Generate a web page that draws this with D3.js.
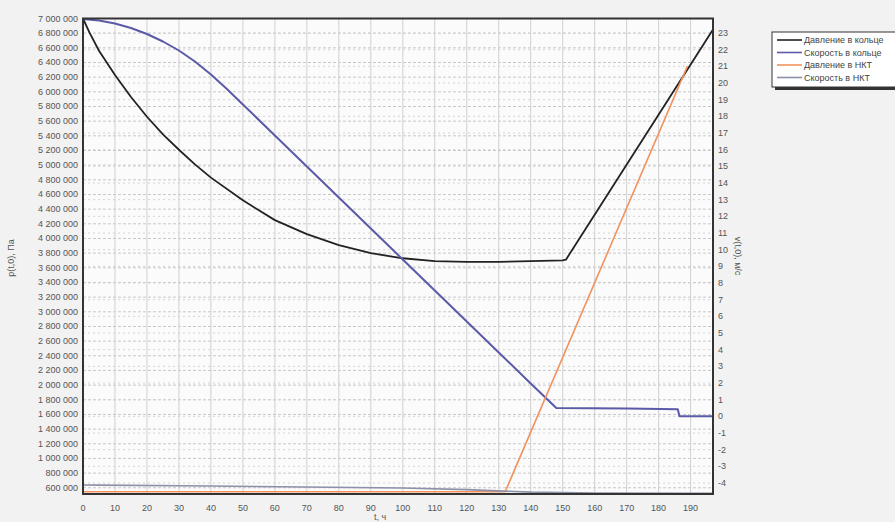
<!DOCTYPE html>
<html lang="ru">
<head>
<meta charset="UTF-8">
<title>Давление и скорость</title>
<script src="https://d3js.org/d3.v7.min.js"></script>
<style>
    body { margin: 0; background: #f2f2f2; font-family: "Liberation Sans", Arial, sans-serif; }
    svg { display: block; }
    .tick-label { font-size: 9px; fill: #555; }
    .legend text { font-size: 9px; fill: #444; }
</style>
</head>
<body>
<svg width="895" height="522"></svg>
<script>
// Давление в кольце, Па
const tRingP = [0, 2, 5, 10, 15, 20, 25, 30, 35, 40, 50, 60, 70, 80, 90, 100, 110, 120, 130, 140, 150, 151, 197];
const ringP  = [7000000, 6810000, 6560000, 6230000, 5930000, 5660000, 5420000, 5210000, 5010000, 4830000, 4520000, 4250000, 4060000, 3910000, 3800000, 3730000, 3690000, 3680000, 3680000, 3690000, 3700000, 3710000, 6850000];

// Скорость в кольце, м/с
const tRingV = [0, 5, 10, 15, 20, 25, 30, 35, 40, 45, 50, 60, 70, 80, 90, 100, 110, 120, 130, 140, 148, 170, 186, 186.5, 197];
const ringV  = [23.84, 23.75, 23.57, 23.3, 22.94, 22.49, 21.95, 21.29, 20.51, 19.64, 18.71, 16.85, 14.99, 13.13, 11.27, 9.41, 7.55, 5.69, 3.83, 1.97, 0.5, 0.47, 0.42, 0.0, 0.0];

// Давление в НКТ, Па
const tTubeP = [0, 132, 189];
const tubeP  = [545000, 545000, 6350000];

// Скорость в НКТ, м/с
const tTubeV = [0, 5, 40, 100, 120, 140, 160, 197];
const tubeV  = [-4.12, -4.13, -4.18, -4.3, -4.4, -4.55, -4.6, -4.62];

const xTicks = d3.range(0, 200, 10);
const leftTicks = d3.range(600000, 7000001, 200000);
const rightTicks = d3.range(-4, 24, 1);

const legendNames = ["Давление в кольце", "Скорость в кольце", "Давление в НКТ", "Скорость в НКТ"];
const colors = ["#222222", "#5a5aa8", "#f2935e", "#8c90a8"];

const svg = d3.select("svg");
const pLeft = 83, pRight = 713, pTop = 18.5, pBottom = 494;

const x = d3.scaleLinear().domain([0, 197]).range([pLeft, pRight]);
const yL = d3.scaleLinear().domain([515000, 7000000]).range([pBottom, pTop]);
const yR = d3.scaleLinear().domain([-4.66, 23.87]).range([pBottom, pTop]);

// фон области графика
svg.append("rect")
    .attr("x", pLeft).attr("y", pTop)
    .attr("width", pRight - pLeft).attr("height", pBottom - pTop)
    .attr("fill", "#fbfbfb");

// сетка
const grid = svg.append("g");
grid.selectAll(".gl").data(leftTicks).enter().append("line")
    .attr("x1", pLeft).attr("x2", pRight)
    .attr("y1", d => yL(d)).attr("y2", d => yL(d))
    .attr("stroke", "#c8c8c8").attr("stroke-dasharray", "3,2");
grid.selectAll(".gr").data(rightTicks).enter().append("line")
    .attr("x1", pLeft).attr("x2", pRight)
    .attr("y1", d => yR(d)).attr("y2", d => yR(d))
    .attr("stroke", "#d4d4d4").attr("stroke-dasharray", "2,3");
grid.selectAll(".gx").data(xTicks.slice(1)).enter().append("line")
    .attr("x1", d => x(d)).attr("x2", d => x(d))
    .attr("y1", pTop).attr("y2", pBottom)
    .attr("stroke", "#d0d0d0");

// линии
const series = [
    { t: tRingP, v: ringP, y: yL, w: 1.8 },
    { t: tRingV, v: ringV, y: yR, w: 2 },
    { t: tTubeP, v: tubeP, y: yL, w: 1.6 },
    { t: tTubeV, v: tubeV, y: yR, w: 1.6 }
];
series.forEach((s, i) => {
    const pts = s.t.map((t, j) => [t, s.v[j]]);
    const line = d3.line().x(d => x(d[0])).y(d => s.y(d[1]));
    svg.append("path")
        .datum(pts)
        .attr("d", line)
        .attr("fill", "none")
        .attr("stroke", colors[i])
        .attr("stroke-width", s.w)
        .attr("stroke-linejoin", "round");
});

// рамка
svg.append("rect")
    .attr("x", pLeft).attr("y", pTop)
    .attr("width", pRight - pLeft).attr("height", pBottom - pTop)
    .attr("fill", "none").attr("stroke", "#333").attr("stroke-width", 2);

// подписи осей
svg.append("g").selectAll("text").data(leftTicks).enter().append("text")
    .attr("class", "tick-label")
    .attr("x", 78).attr("y", d => yL(d) + 3)
    .attr("text-anchor", "end")
    .text(d => d3.format(",")(d).replace(/,/g, " "));

svg.append("g").selectAll("text").data(rightTicks).enter().append("text")
    .attr("class", "tick-label")
    .attr("x", 718).attr("y", d => yR(d) + 3)
    .text(d => d);

svg.append("g").selectAll("text").data(xTicks).enter().append("text")
    .attr("class", "tick-label")
    .attr("x", d => x(d)).attr("y", 511)
    .attr("text-anchor", "middle")
    .text(d => d);

// названия осей
svg.append("text")
    .attr("class", "tick-label")
    .attr("transform", "translate(14,258) rotate(-90)")
    .attr("text-anchor", "middle")
    .text("p(t,0), Па");

svg.append("text")
    .attr("class", "tick-label")
    .attr("transform", "translate(735,256) rotate(90)")
    .attr("text-anchor", "middle")
    .text("v(t,0), м/с");

svg.append("text")
    .attr("class", "tick-label")
    .attr("x", 380).attr("y", 520)
    .attr("text-anchor", "middle")
    .text("t, ч");

// легенда
const lg = svg.append("g").attr("class", "legend");
lg.append("rect")
    .attr("x", 775).attr("y", 35).attr("width", 140).attr("height", 55)
    .attr("fill", "#333");
lg.append("rect")
    .attr("x", 772).attr("y", 32).attr("width", 140).attr("height", 55)
    .attr("fill", "#fff").attr("stroke", "#333").attr("stroke-width", 1);
legendNames.forEach((name, i) => {
    const yy = 40 + i * 12.5;
    lg.append("line")
        .attr("x1", 777).attr("x2", 802)
        .attr("y1", yy).attr("y2", yy)
        .attr("stroke", colors[i]).attr("stroke-width", 1.6);
    lg.append("text")
        .attr("x", 804).attr("y", yy + 3)
        .text(name);
});
</script>
</body>
</html>
